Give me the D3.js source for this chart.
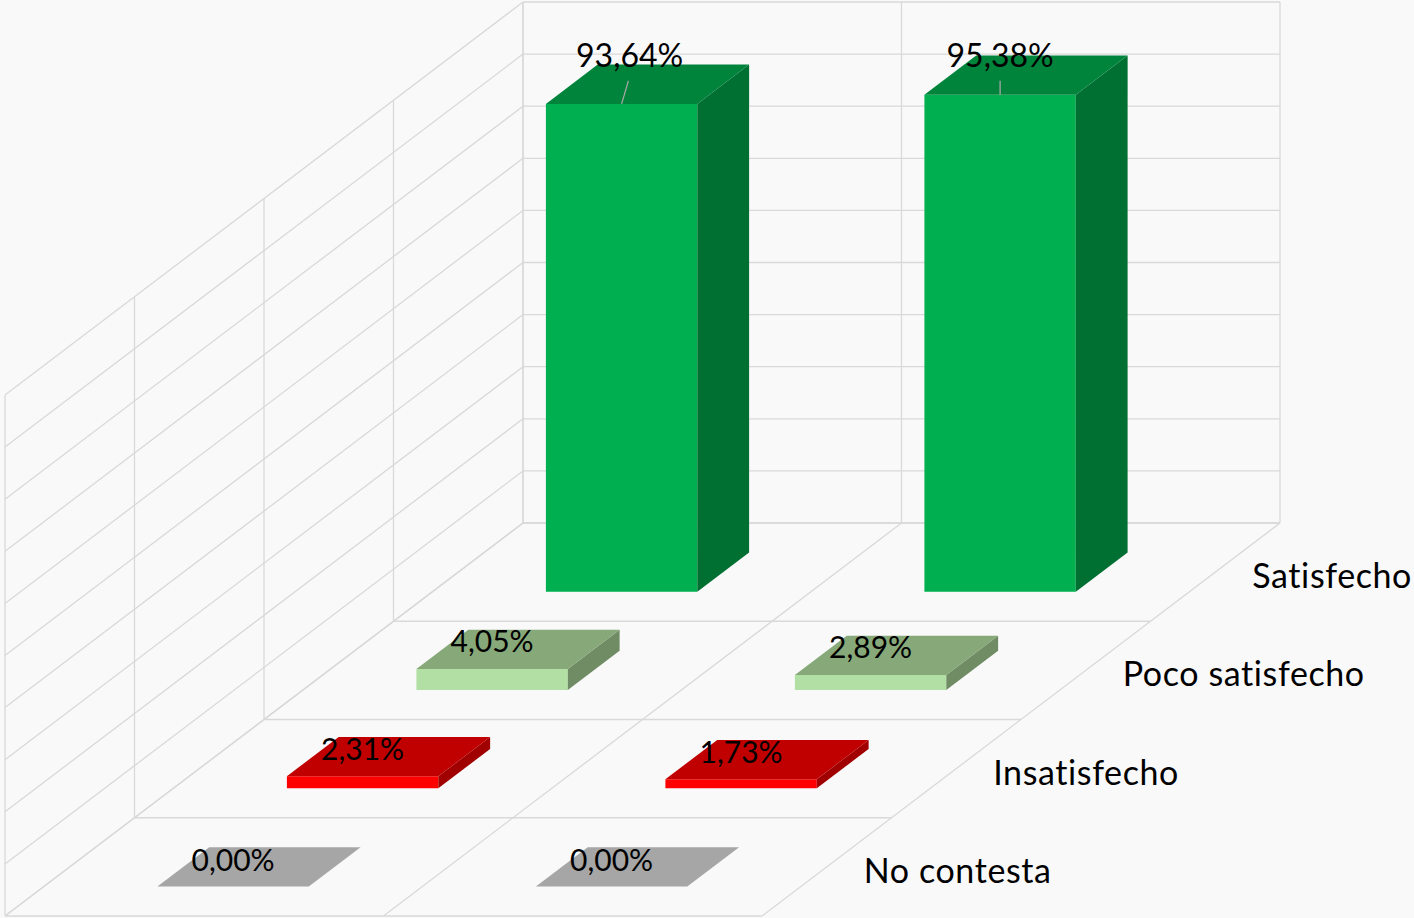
<!DOCTYPE html>
<html>
<head>
<meta charset="utf-8">
<script src="https://cdn.jsdelivr.net/npm/d3@7"></script>
<style>
  html, body { margin: 0; padding: 0; background: #f9f9fa; }
  svg { display: block; }
  text { font-family: Lato, "Noto Sans", sans-serif; fill: #000; }
</style>
</head>
<body>
<svg id="chart" width="1414" height="918"></svg>
<script>
// Satisfaction survey, two groups, four answer levels shown as 3D columns
const categories = ["Grupo 1", "Grupo 2"];
const series = ["Satisfecho", "Poco satisfecho", "Insatisfecho", "No contesta"];
const satisfecho = [93.64, 95.38];
const pocoSatisfecho = [4.05, 2.89];
const insatisfecho = [2.31, 1.73];
const noContesta = [0.00, 0.00];
const valueTicks = [0, 10, 20, 30, 40, 50, 60, 70, 80, 90, 100];

const seriesValues = [satisfecho, pocoSatisfecho, insatisfecho, noContesta];

// face colours per series: front, top, side
const palette = [
  { front: "#00b050", top: "#00843c", side: "#007032" },
  { front: "#b2dfa3", top: "#87a979", side: "#708c64" },
  { front: "#ff0000", top: "#c00000", side: "#a00000" },
  { front: "#a6a6a6", top: "#a6a6a6", side: "#8c8c8c" }
];

const svg = d3.select("#chart");

// back wall plane
const x = d3.scaleBand().domain(categories).range([523, 1280]);
const y = d3.scaleLinear().domain([0, 100]).range([523, 2]);
// depth (series axis): 0 = back wall, series.length = front edge
const depthX = d3.scaleLinear().domain([0, series.length]).range([0, -518]);
const depthY = d3.scaleLinear().domain([0, series.length]).range([0, 393]);

const P = (xw, v, z) => [xw + depthX(z), y(v) + depthY(z)];
const line = d3.line();

const grid = svg.append("g")
  .attr("fill", "none")
  .attr("stroke", "#d9d9d9")
  .attr("stroke-width", 1.3);

const x0 = x.range()[0], x1 = x.range()[1];
const zMax = series.length;
const vMax = y.domain()[1];

// back wall: horizontal gridlines
valueTicks.forEach(v => {
  grid.append("path").attr("d", line([P(x0, v, 0), P(x1, v, 0)]));
});
// back wall: vertical lines at category boundaries
const bounds = categories.map(c => x(c)).concat([x1]);
bounds.forEach(bx => {
  grid.append("path").attr("d", line([P(bx, 0, 0), P(bx, vMax, 0)]));
});
// side wall: gridlines running toward the front
valueTicks.forEach(v => {
  grid.append("path").attr("d", line([P(x0, v, 0), P(x0, v, zMax)]));
});
// side wall: vertical lines at series boundaries
d3.range(0, zMax + 1).forEach(z => {
  grid.append("path").attr("d", line([P(x0, 0, z), P(x0, vMax, z)]));
});
// floor: lines across at series boundaries
d3.range(0, zMax + 1).forEach(z => {
  grid.append("path").attr("d", line([P(x0, 0, z), P(x1, 0, z)]));
});
// floor: lines toward the front at category boundaries
bounds.forEach(bx => {
  grid.append("path").attr("d", line([P(bx, 0, 0), P(bx, 0, zMax)]));
});

// bars, back row first
const barFrac = 0.4;          // share of category width and of row depth
const fmt = d3.format(".2f");
const pct = v => fmt(v).replace(".", ",") + "%";

const bars = svg.append("g");
const labels = svg.append("g");

// label placement per series/category: [dx, dy] from the bar's top front centre
const labelShift = [
  [[8, -37], [0, -28]],
  [[0, -17], [0, -17]],
  [[0, -16], [0, -16]],
  [[0, -16], [0, -16]]
];
const labelSize = [32, 30, 30, 30];

seriesValues.forEach((vals, si) => {
  const c = palette[si];
  const zf = si + 0.5 + barFrac / 2;
  const zb = si + 0.5 - barFrac / 2;
  vals.forEach((v, ci) => {
    const cx = x(categories[ci]) + x.bandwidth() / 2;
    const hw = x.bandwidth() * barFrac / 2;
    const l = cx - hw, r = cx + hw;
    const g = bars.append("g");
    if (v > 0) {
      g.append("path").attr("fill", c.front)
        .attr("d", line([P(l, 0, zf), P(r, 0, zf), P(r, v, zf), P(l, v, zf)]) + "Z");
      g.append("path").attr("fill", c.side)
        .attr("d", line([P(r, 0, zf), P(r, 0, zb), P(r, v, zb), P(r, v, zf)]) + "Z");
    }
    g.append("path").attr("fill", c.top)
      .attr("d", line([P(l, v, zf), P(r, v, zf), P(r, v, zb), P(l, v, zb)]) + "Z");

    const [tx, ty] = P(cx, v, zf);
    const [dx, dy] = labelShift[si][ci];
    if (dy < -20) {
      labels.append("path")
        .attr("fill", "none").attr("stroke", "#a6a6a6").attr("stroke-width", 1.3)
        .attr("d", line([[tx, ty], [tx + dx * 0.85, ty + dy + 14]]));
    }
    labels.append("text")
      .attr("x", tx + dx).attr("y", ty + dy)
      .attr("text-anchor", "middle")
      .attr("font-size", labelSize[si])
      .text(pct(v));
  });
});

// series names along the right edge of the floor
const names = svg.append("g");
series.forEach((s, si) => {
  const [ex, ey] = P(x1, 0, si + 0.5);
  names.append("text")
    .attr("x", ex + 37).attr("y", ey + 16)
    .attr("font-size", 34)
    .attr("letter-spacing", 0.6)
    .text(s);
});
</script>
</body>
</html>
